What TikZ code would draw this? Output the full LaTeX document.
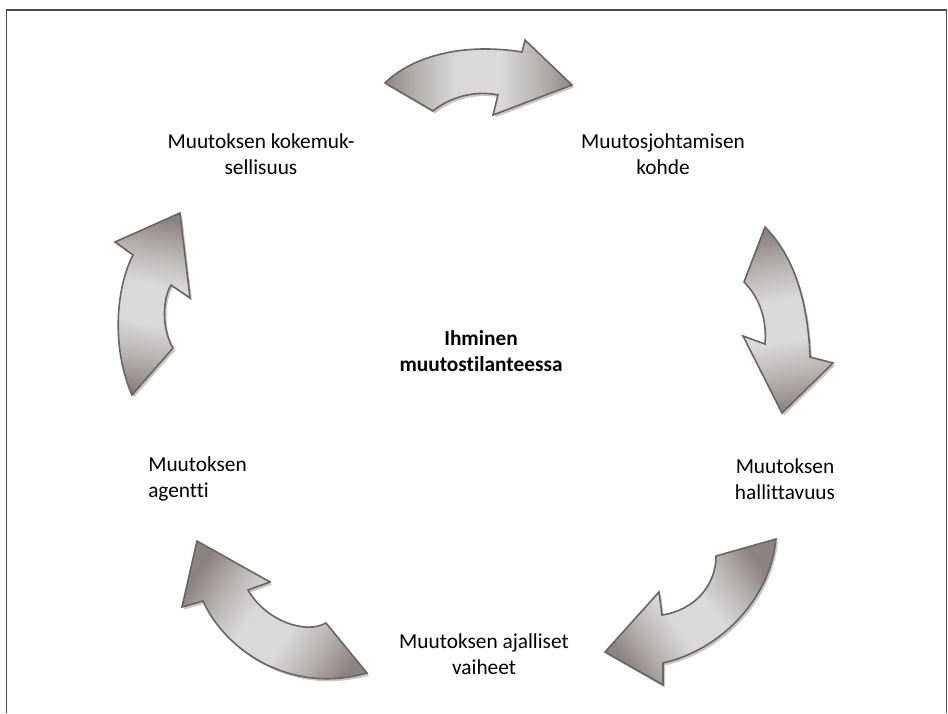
\documentclass[tikz,border=0pt]{standalone}
\usepackage{fontspec}
\setmainfont{Carlito}[Ligatures=NoCommon]
\definecolor{adark}{HTML}{8A8383}
\definecolor{amid}{HTML}{B3AFAF}
\definecolor{alight}{HTML}{D9D9D9}
\definecolor{aedge}{HTML}{6B6464}
\definecolor{ashadow}{HTML}{BDB8B8}
\definecolor{framegray}{HTML}{4A4A4A}
\pgfdeclarehorizontalshading{arrowbody}{100bp}{color(0bp)=(adark); color(24bp)=(adark); color(33bp)=(amid); color(44bp)=(alight); color(56bp)=(alight); color(67bp)=(amid); color(76bp)=(adark); color(100bp)=(adark)}

% outlines of the five curved block arrows (pixel grid, y downwards)
\def\pathTop{(385,83) .. controls (410,58) and (460,42) .. (522,52) -- (525,40) -- (572,85) -- (493,115) -- (498,95) .. controls (475,90) and (450,97) .. (433,111) -- cycle}
\def\pathRight{(765,227) .. controls (793,255) and (808,300) .. (810,357) -- (833,363) -- (782,413) -- (743,336) -- (765,344) .. controls (767,320) and (760,298) .. (744,282) -- cycle}
\def\pathBR{(776,539) .. controls (770,600) and (720,650) .. (663,663) -- (663,685) -- (605,652) -- (659,592) -- (662,615) .. controls (695,610) and (716,585) .. (716,556) -- cycle}
\def\pathBL{(367,673) .. controls (290,695) and (225,650) .. (203,601) -- (182,607) -- (197,541) -- (270,582) -- (248,590) .. controls (265,620) and (305,635) .. (326,623) -- cycle}
\def\pathLeft{(132,395) .. controls (112,350) and (115,290) .. (133,255) -- (115,242) -- (180,213) -- (190,298) -- (171,285) .. controls (162,300) and (162,330) .. (173,348) -- cycle}

\tikzset{
  cyclearrow/.style={draw=aedge, line width=1.2pt, line join=miter, shading=arrowbody},
  arrowdrop/.style={fill=ashadow, opacity=0.8, shift={(2,2.5)}},
  cyclelabel/.style={font=\fontsize{16}{19.5}\selectfont, align=center, inner sep=0pt, text=black},
  frameline/.style={draw=framegray, line width=1.3pt},
}

\begin{document}
\begin{tikzpicture}[x=0.75pt, y=-0.75pt]
\useasboundingbox (0,0) rectangle (948,713);

% open frame (no bottom edge)
\draw[frameline] (6.5,713) -- (6.5,10) -- (946.5,10) -- (946.5,713);

% drop shadows
\fill[arrowdrop] \pathTop;
\fill[arrowdrop] \pathRight;
\fill[arrowdrop] \pathBR;
\fill[arrowdrop] \pathBL;
\fill[arrowdrop] \pathLeft;

% arrows
\draw[cyclearrow, shading angle=0] \pathTop;
\draw[cyclearrow, shading angle=-80] \pathRight;
\draw[cyclearrow, shading angle=-144] \pathBR;
\draw[cyclearrow, shading angle=145] \pathBL;
\draw[cyclearrow, shading angle=80] \pathLeft;

% labels
\node[cyclelabel] (kokemus) at (261,154) {Muutoksen kokemuk-\\sellisuus};
\node[cyclelabel] (kohde) at (663,154) {Muutosjohtamisen\\kohde};
\node[cyclelabel] (hallinta) at (785,479) {Muutoksen\\hallittavuus};
\node[cyclelabel] (vaiheet) at (484,654) {Muutoksen ajalliset\\vaiheet};
\node[cyclelabel, align=left, anchor=west] (agentti) at (148,479) {Muutoksen\\agentti};
\node[cyclelabel, font=\fontsize{16}{19.5}\selectfont\bfseries] (ihminen) at (481,351) {Ihminen\\muutostilanteessa};
\end{tikzpicture}
\end{document}
